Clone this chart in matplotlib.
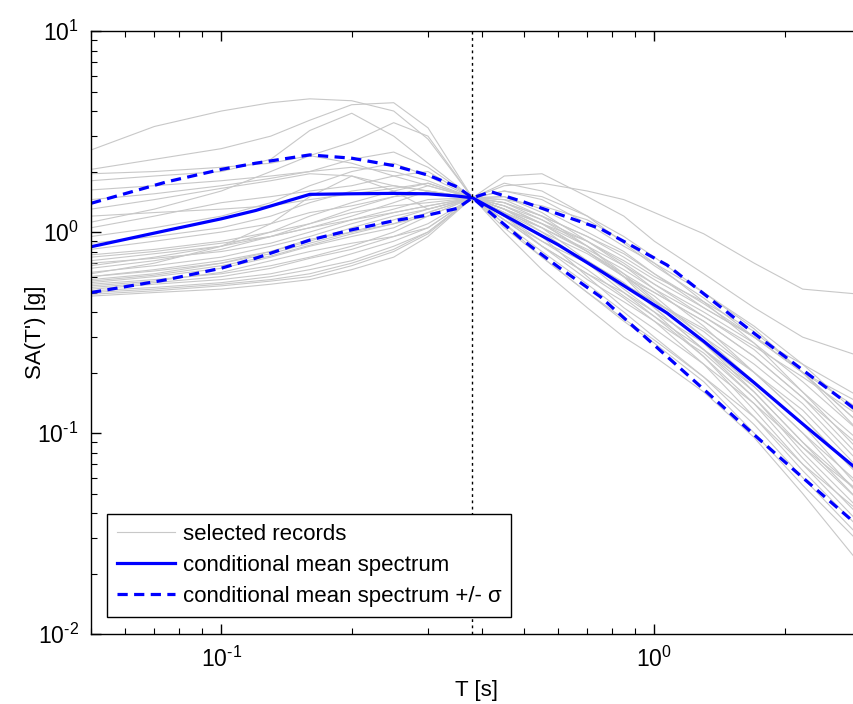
import numpy as np
import matplotlib
matplotlib.use("Agg")
import matplotlib.pyplot as plt
from matplotlib.ticker import FuncFormatter

plt.rcParams["font.family"] = ["Liberation Sans", "DejaVu Sans"]
plt.rcParams["mathtext.default"] = "regular"
plt.rcParams["axes.unicode_minus"] = False

# periods of the selected records [s]
rec_T = [0.05, 0.07, 0.1, 0.13, 0.16, 0.2, 0.25, 0.3, 0.38, 0.45,
         0.55, 0.7, 0.85, 1.0, 1.3, 1.7, 2.2, 3.0]

# spectral accelerations of the selected records [g]
records = [
    [2.56, 3.35, 4.0, 4.4, 4.6, 4.5, 4.0, 2.9, 1.48, 1.3, 1.05, 0.8, 0.62, 0.5, 0.36, 0.24, 0.15, 0.085],
    [2.05, 2.3, 2.6, 3.0, 3.6, 4.3, 4.4, 3.3, 1.48, 1.6, 1.45, 1.1, 0.85, 0.7, 0.5, 0.33, 0.2, 0.11],
    [1.95, 2.0, 2.1, 2.2, 2.4, 2.8, 3.5, 3.0, 1.48, 1.2, 0.95, 0.72, 0.55, 0.45, 0.32, 0.2, 0.12, 0.06],
    [1.8, 1.9, 2.0, 2.3, 3.2, 3.9, 3.0, 2.2, 1.48, 1.7, 1.75, 1.6, 1.45, 1.25, 0.98, 0.7, 0.52, 0.49],
    [1.62, 1.7, 1.8, 1.9, 2.0, 2.1, 2.0, 1.8, 1.48, 1.9, 1.95, 1.5, 1.2, 0.9, 0.62, 0.42, 0.3, 0.24],
    [1.45, 1.55, 1.7, 1.85, 2.0, 2.3, 2.5, 2.1, 1.48, 1.3, 1.1, 0.85, 0.68, 0.55, 0.4, 0.28, 0.18, 0.1],
    [1.3, 1.45, 1.65, 1.8, 1.95, 1.9, 1.7, 1.6, 1.48, 1.5, 1.3, 1.0, 0.8, 0.62, 0.42, 0.3, 0.2, 0.13],
    [1.12, 1.3, 1.6, 2.0, 2.4, 2.2, 1.9, 1.7, 1.48, 1.25, 0.95, 0.6, 0.42, 0.33, 0.22, 0.14, 0.085, 0.045],
    [1.05, 1.2, 1.4, 1.5, 1.6, 1.7, 1.9, 2.0, 1.48, 1.4, 1.2, 0.95, 0.75, 0.6, 0.45, 0.32, 0.2, 0.1],
    [0.95, 1.05, 1.2, 1.4, 1.7, 2.0, 2.2, 1.9, 1.48, 1.15, 0.85, 0.62, 0.5, 0.4, 0.28, 0.17, 0.1, 0.055],
    [0.88, 0.95, 1.05, 1.2, 1.4, 1.6, 1.7, 1.6, 1.48, 1.45, 1.35, 1.15, 0.9, 0.7, 0.45, 0.28, 0.16, 0.08],
    [0.82, 0.9, 1.0, 1.1, 1.25, 1.35, 1.5, 1.55, 1.48, 1.2, 0.9, 0.7, 0.55, 0.45, 0.33, 0.22, 0.14, 0.07],
    [0.77, 0.82, 0.9, 1.0, 1.1, 1.3, 1.5, 1.7, 1.48, 1.35, 1.1, 0.8, 0.6, 0.48, 0.3, 0.18, 0.11, 0.052],
    [0.72, 0.78, 0.85, 0.95, 1.05, 1.2, 1.4, 1.6, 1.48, 1.3, 1.05, 0.82, 0.65, 0.52, 0.38, 0.26, 0.16, 0.09],
    [0.7, 0.74, 0.8, 0.88, 1.0, 1.15, 1.3, 1.45, 1.48, 1.1, 0.8, 0.55, 0.4, 0.3, 0.19, 0.11, 0.06, 0.03],
    [0.66, 0.72, 0.82, 0.95, 1.1, 1.25, 1.35, 1.4, 1.48, 1.25, 1.0, 0.78, 0.6, 0.5, 0.36, 0.24, 0.15, 0.075],
    [0.63, 0.68, 0.75, 0.85, 0.95, 1.1, 1.25, 1.35, 1.48, 1.5, 1.25, 0.9, 0.68, 0.52, 0.34, 0.2, 0.12, 0.06],
    [0.6, 0.65, 0.72, 0.8, 0.9, 1.05, 1.2, 1.3, 1.48, 1.3, 1.1, 0.9, 0.7, 0.55, 0.38, 0.27, 0.19, 0.12],
    [0.58, 0.62, 0.7, 0.8, 0.92, 1.0, 1.1, 1.2, 1.48, 1.2, 0.85, 0.58, 0.45, 0.36, 0.25, 0.15, 0.08, 0.041],
    [0.56, 0.6, 0.66, 0.75, 0.85, 0.95, 1.05, 1.25, 1.48, 1.15, 0.9, 0.65, 0.48, 0.38, 0.26, 0.17, 0.1, 0.048],
    [0.55, 0.58, 0.62, 0.68, 0.75, 0.85, 1.0, 1.2, 1.48, 1.05, 0.75, 0.5, 0.36, 0.28, 0.18, 0.1, 0.055, 0.028],
    [0.53, 0.56, 0.6, 0.66, 0.74, 0.82, 0.95, 1.1, 1.48, 1.3, 1.0, 0.7, 0.5, 0.38, 0.24, 0.14, 0.075, 0.038],
    [0.52, 0.55, 0.58, 0.62, 0.68, 0.78, 0.9, 1.05, 1.48, 1.4, 1.15, 0.85, 0.62, 0.46, 0.3, 0.2, 0.13, 0.065],
    [0.51, 0.53, 0.56, 0.6, 0.65, 0.72, 0.85, 1.0, 1.48, 1.2, 0.95, 0.72, 0.56, 0.42, 0.26, 0.16, 0.09, 0.05],
    [0.5, 0.52, 0.55, 0.58, 0.62, 0.7, 0.82, 1.0, 1.48, 1.0, 0.65, 0.42, 0.3, 0.24, 0.16, 0.095, 0.05, 0.022],
    [0.49, 0.51, 0.54, 0.57, 0.6, 0.68, 0.8, 0.98, 1.48, 1.15, 0.85, 0.62, 0.47, 0.36, 0.22, 0.12, 0.065, 0.033],
    [0.48, 0.5, 0.52, 0.55, 0.58, 0.65, 0.75, 0.95, 1.48, 1.35, 1.1, 0.8, 0.6, 0.45, 0.28, 0.16, 0.09, 0.045],
    [0.6, 0.64, 0.7, 0.78, 0.88, 1.0, 1.15, 1.3, 1.48, 1.6, 1.5, 1.2, 0.95, 0.75, 0.5, 0.34, 0.22, 0.12],
    [0.68, 0.75, 0.85, 1.0, 1.2, 1.4, 1.6, 1.75, 1.48, 1.1, 0.75, 0.5, 0.37, 0.29, 0.19, 0.12, 0.07, 0.04],
    [0.75, 0.8, 0.88, 0.95, 1.05, 1.15, 1.25, 1.35, 1.48, 1.4, 1.2, 0.95, 0.78, 0.62, 0.44, 0.3, 0.2, 0.14],
    [0.62, 0.7, 0.85, 1.1, 1.5, 1.9, 1.6, 1.3, 1.48, 1.75, 1.6, 1.2, 0.88, 0.68, 0.47, 0.3, 0.2, 0.11],
    [0.54, 0.57, 0.63, 0.72, 0.8, 0.88, 0.95, 1.05, 1.48, 1.25, 1.05, 0.72, 0.52, 0.4, 0.24, 0.13, 0.07, 0.035],
    [1.2, 1.25, 1.3, 1.35, 1.45, 1.55, 1.65, 1.75, 1.48, 1.35, 1.15, 0.9, 0.72, 0.58, 0.42, 0.3, 0.22, 0.15],
    [0.57, 0.61, 0.68, 0.76, 0.86, 0.98, 1.1, 1.25, 1.48, 1.45, 1.2, 0.85, 0.6, 0.42, 0.26, 0.15, 0.085, 0.05],
]

# conditional mean spectrum and +/- sigma
cms_T = [0.05, 0.075, 0.1, 0.12, 0.16, 0.2, 0.25, 0.3, 0.35, 0.38,
         0.42, 0.5, 0.6, 0.75, 0.9, 1.07, 1.3, 1.7, 2.2, 3.0]
cms_mean = [0.845, 1.02, 1.164, 1.28, 1.54, 1.55, 1.557, 1.55, 1.51, 1.48,
            1.315, 1.07, 0.863, 0.642, 0.50, 0.395, 0.286, 0.178, 0.111, 0.0636]
cms_plus = [1.39, 1.78, 2.05, 2.2, 2.42, 2.33, 2.14, 1.92, 1.68, 1.48,
            1.586, 1.41, 1.23, 1.04, 0.84, 0.685, 0.493, 0.313, 0.206, 0.125]
cms_minus = [0.50, 0.58, 0.661, 0.741, 0.912, 1.026, 1.138, 1.215, 1.31, 1.48,
             1.237, 0.90, 0.67, 0.477, 0.335, 0.24, 0.165, 0.098, 0.060, 0.0336]

T_star = 0.38


def pow10(v, pos):
    e = int(round(np.log10(v)))
    s = str(abs(e))
    if e < 0:
        s = "\u2010" + s  # short hyphen like the original
    return "$10^{" + s + "}$"


fig = plt.figure(figsize=(8.54, 7.04), dpi=100)
ax = fig.add_axes([0.1066, 0.0994, 0.9016, 0.8565])

for i, r in enumerate(records):
    ax.plot(rec_T, r, color="#c8c8c8", lw=0.8,
            label="selected records" if i == 0 else None)
ax.plot(cms_T, cms_mean, color="#0000ff", lw=2.3, label="conditional mean spectrum")
ax.plot(cms_T, cms_plus, color="#0000ff", lw=2.3, ls=(0, (3.2, 2)),
        label="conditional mean spectrum +/- \u03c3")
ax.plot(cms_T, cms_minus, color="#0000ff", lw=2.3, ls=(0, (3.2, 2)))
ax.axvline(T_star, color="black", lw=1, ls=(0, (2, 2.5)))

ax.set_xscale("log")
ax.set_yscale("log")
ax.set_xlim(0.05, 3)
ax.set_ylim(0.01, 10)
ax.xaxis.set_major_formatter(FuncFormatter(pow10))
ax.yaxis.set_major_formatter(FuncFormatter(pow10))

ax.tick_params(which="both", direction="in", top=True, right=False, labelsize=16.5)
ax.tick_params(which="major", length=7, width=1, pad=9)
ax.tick_params(which="minor", length=4, width=0.8)
for s in ax.spines.values():
    s.set_linewidth(1)

ax.set_xlabel("T [s]", fontsize=16, labelpad=6)
ax.set_ylabel("SA(T') [g]", fontsize=16)
ax.yaxis.set_label_coords(-0.058, 0.5)

leg = ax.legend(loc="lower left", bbox_to_anchor=(0.0208, 0.028), borderaxespad=0,
                fontsize=16, fancybox=False, edgecolor="black", framealpha=1,
                handlelength=2.6, handletextpad=0.35, labelspacing=0.45,
                borderpad=0.45)
leg.get_frame().set_linewidth(1)

fig.savefig("out.png", dpi=100)
